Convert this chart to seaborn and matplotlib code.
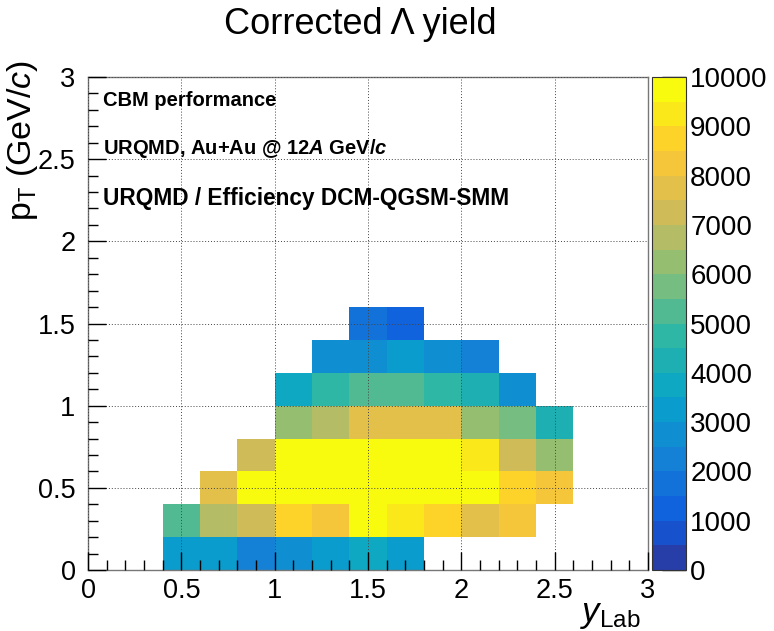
import numpy as np
import pandas as pd
import matplotlib
matplotlib.use("Agg")
import matplotlib.pyplot as plt
import seaborn as sns
from matplotlib.colors import LinearSegmentedColormap, ListedColormap

# ---------------- data ----------------
bin_width = 0.2
n_bins = 15  # 0..3 in both axes
# each row: first y_Lab bin index, values (rows go up in pT by 0.2)
row0_start, row0 = 2, [3300, 3300, 2300, 2800, 3300, 3800, 3300]
row1_start, row1 = 2, [5300, 6800, 7300, 8800, 8300, 9800, 9300, 8800, 7800, 8300]
row2_start, row2 = 3, [7800, 9800, 9800, 9800, 9800, 9800, 9800, 9800, 8800, 8300]
row3_start, row3 = 4, [7300, 9800, 9800, 9800, 9800, 9800, 9300, 7300, 6300]
row4_start, row4 = 5, [6300, 6800, 7800, 7800, 7800, 6300, 5800, 4300]
row5_start, row5 = 5, [3800, 4800, 5300, 5300, 4800, 4300, 2800]
row6_start, row6 = 6, [2800, 2800, 3300, 2800, 2300]
row7_start, row7 = 7, [1800, 1300]
tick_values = [0, 0.5, 1, 1.5, 2, 2.5, 3]
tick_labels = ["0", "0.5", "1", "1.5", "2", "2.5", "3"]
cbar_ticks = [0, 1000, 2000, 3000, 4000, 5000, 6000, 7000, 8000, 9000, 10000]

rows = [(row0_start, row0), (row1_start, row1), (row2_start, row2), (row3_start, row3),
        (row4_start, row4), (row5_start, row5), (row6_start, row6), (row7_start, row7)]
grid = np.full((n_bins, n_bins), np.nan)
for i, (s, vals) in enumerate(rows):
    grid[i, s:s + len(vals)] = vals
df = pd.DataFrame(grid)

# ROOT kBird palette, 20 contour levels
stops = [0.0, 0.125, 0.25, 0.375, 0.5, 0.625, 0.75, 0.875, 1.0]
red = [0.2082, 0.0592, 0.0780, 0.0232, 0.1802, 0.5301, 0.8186, 0.9956, 0.9764]
green = [0.1664, 0.3599, 0.5041, 0.6419, 0.7178, 0.7492, 0.7328, 0.7862, 0.9832]
blue = [0.5293, 0.8684, 0.8385, 0.7914, 0.6425, 0.4662, 0.3499, 0.1968, 0.0539]
bird = LinearSegmentedColormap.from_list(
    "bird", [(s, (r, g, b)) for s, r, g, b in zip(stops, red, green, blue)])
cmap20 = ListedColormap([bird(min((i + 0.99) / 20, 1.0)) for i in range(20)])

# ---------------- style ----------------
sns.set_theme(style="white")
plt.rcParams["font.family"] = ["Liberation Sans", "DejaVu Sans"]
plt.rcParams["mathtext.fontset"] = "custom"
plt.rcParams["mathtext.rm"] = "Liberation Sans"
plt.rcParams["mathtext.it"] = "Liberation Sans:italic"
plt.rcParams["mathtext.bf"] = "Liberation Sans:bold"
plt.rcParams["mathtext.bfit"] = "Liberation Sans:bold:italic"
for k in ["text.color", "axes.labelcolor", "xtick.color", "ytick.color"]:
    plt.rcParams[k] = "black"

W, H = 774, 631
fig = plt.figure(figsize=(W / 100, H / 100), dpi=100)
ax = fig.add_axes([88 / W, 61 / H, 560 / W, 493 / H])
cax = fig.add_axes([652 / W, 61 / H, 34 / W, 493 / H])

sns.heatmap(df, ax=ax, cbar_ax=cax, cmap=cmap20, vmin=0, vmax=10000,
            xticklabels=False, yticklabels=False, cbar=True)

ax.set_xlim(0, n_bins)
ax.set_ylim(0, n_bins)
pos = [v / bin_width for v in tick_values]
ax.set_xticks(pos)
ax.set_xticklabels(tick_labels)
ax.set_yticks(pos)
ax.set_yticklabels(tick_labels)
ax.set_xticks(np.arange(0, n_bins + 0.01, 0.5), minor=True)
ax.set_yticks(np.arange(0, n_bins + 0.01, 0.5), minor=True)
ax.set_xlabel("")
ax.set_ylabel("")
ax.tick_params(which="major", direction="in", length=13, width=1, color="black",
               labelcolor="black", labelsize=19.5, bottom=True, left=True,
               top=False, right=False, pad=6)
ax.tick_params(which="minor", direction="in", length=7, width=1, color="black",
               bottom=True, left=True, top=False, right=False)
ax.tick_params(axis="y", pad=9)
for sp in ax.spines.values():
    sp.set_visible(True)
    sp.set_color("#777777")
    sp.set_linewidth(1)
ax.set_axisbelow(False)
ax.grid(True, which="major", linestyle=(0, (1, 2)), color="#444444", linewidth=0.7)

cbar = ax.collections[0].colorbar
cbar.set_ticks(cbar_ticks)
cbar.set_ticklabels([str(t) for t in cbar_ticks])
cbar.ax.tick_params(direction="in", length=17, width=1, color="black", labelcolor="black",
                    labelsize=20, pad=3, right=True, left=False)
cbar.outline.set_edgecolor("#333333")
cbar.outline.set_linewidth(0.8)

# ---------------- texts ----------------
fig.text(360 / W, 1 - 25 / H, "Corrected \u039b yield", ha="center", va="center",
         fontsize=26, color="black")
fig.text(22 / W, 1 - 60 / H, r"p$_{\rm T}$ (GeV/$c$)", rotation=90, ha="center", va="top",
         fontsize=24.5, color="black")
fig.text(641 / W, 1 - 631 / H, r"$y_{\rm Lab}$", ha="right", va="bottom", fontsize=25,
         color="black")
fig.text(103 / W, 1 - 100 / H, "CBM performance", ha="left", va="center",
         fontsize=14.5, fontweight="bold", color="black")
fig.text(103 / W, 1 - 148 / H, r"URQMD, Au+Au @ 12$\mathbfit{A}$ GeV/$\mathbfit{c}$",
         ha="left", va="center", fontsize=14.5, fontweight="bold", color="black")
fig.text(103 / W, 1 - 198 / H, "URQMD / Efficiency DCM-QGSM-SMM", ha="left", va="center",
         fontsize=16.3, fontweight="bold", color="black")

fig.savefig("out.png", dpi=100)
